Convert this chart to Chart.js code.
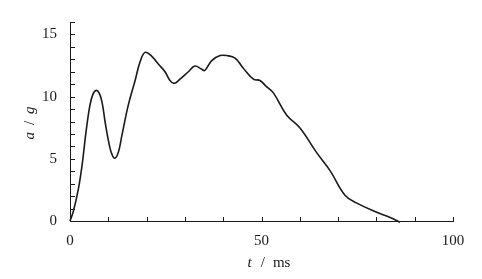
<!DOCTYPE html>
<html>
<head>
<meta charset="utf-8">
<script src="https://cdn.jsdelivr.net/npm/chart.js@4.4.0/dist/chart.umd.min.js"></script>
<style>
  html, body { margin: 0; padding: 0; background: #fff; }
  #wrap { width: 482px; height: 279px; }
</style>
</head>
<body>
<div id="wrap"><canvas id="chart"></canvas></div>
<script>
// time (ms) and acceleration (g)
const timeMs = [0, 0.9, 2.2, 3.2, 4.2, 5.2, 6.0, 6.8, 7.6, 8.4, 9.2, 10.2, 10.9, 11.7, 12.6, 13.5, 15.2,
    17.0, 18.3, 19.6, 21.3, 23.1, 24.8, 26.1, 27.2, 28.7, 30.9, 32.6, 34.4, 35.2, 37, 39.2, 40.9,
    43.1, 45.2, 47.9, 49.6, 51.3, 53.1, 56.6, 60, 64.4, 67.9, 71.8, 74.9, 80.1, 83.6, 86.2];
const accelG = [0, 0.8, 2.6, 4.6, 7.2, 9.3, 10.2, 10.5, 10.3, 9.5, 7.9, 6.2, 5.4, 5.05, 5.5, 6.8, 9.3,
    11.3, 12.8, 13.56, 13.26, 12.6, 12.0, 11.3, 11.07, 11.4, 12.0, 12.46, 12.2, 12.1, 12.9, 13.3, 13.3,
    13.1, 12.3, 11.4, 11.3, 10.8, 10.3, 8.5, 7.5, 5.5, 4.05, 2.07, 1.44, 0.7, 0.28, -0.1];
const xLabels = [0, 50, 100];
const yLabels = [0, 5, 10, 15];

const ink = '#1a1a1a';
const serif = "'Liberation Serif', 'Times New Roman', serif";

const points = timeMs.map((t, i) => ({ x: t, y: accelG[i] }));

// ticks drawn inward + axis titles with italic symbols
const axisDecor = {
    id: 'axisDecor',
    afterDraw(chart) {
        const ctx = chart.ctx;
        const xs = chart.scales.x, ys = chart.scales.y;
        const area = chart.chartArea;
        ctx.save();
        ctx.strokeStyle = ink;
        ctx.lineWidth = 1;
        ctx.beginPath();
        for (let v = 10; v <= 100; v += 10) {
            const px = Math.round(xs.getPixelForValue(v)) + 0.5;
            ctx.moveTo(px, area.bottom);
            ctx.lineTo(px, area.bottom - 4);
        }
        for (let v = 1; v <= 16; v++) {
            const py = Math.round(ys.getPixelForValue(v)) + 0.5;
            ctx.moveTo(area.left, py);
            ctx.lineTo(area.left + 5, py);
        }
        ctx.stroke();

        ctx.fillStyle = ink;
        ctx.textBaseline = 'middle';
        ctx.textAlign = 'left';
        const it = 'italic 15px ' + serif;
        const rm = '15px ' + serif;

        function drawTitle(parts, cx, cy) {
            let total = 0;
            parts.forEach(p => { ctx.font = p.font; p.w = ctx.measureText(p.text).width; total += p.w + (p.gap || 0); });
            let x = cx - total / 2;
            parts.forEach(p => { ctx.font = p.font; ctx.fillText(p.text, x, cy); x += p.w + (p.gap || 0); });
        }

        drawTitle([
            { text: 't', font: it, gap: 9 },
            { text: '/', font: rm, gap: 8 },
            { text: 'ms', font: rm }
        ], 269, 263);

        ctx.translate(30, 123);
        ctx.rotate(-Math.PI / 2);
        drawTitle([
            { text: 'a', font: it, gap: 7 },
            { text: '/', font: rm, gap: 7 },
            { text: 'g', font: it }
        ], 0, 0);
        ctx.restore();
    }
};

new Chart(document.getElementById('chart'), {
    type: 'scatter',
    data: {
        datasets: [{
            data: points,
            showLine: true,
            borderColor: ink,
            borderWidth: 1.6,
            pointRadius: 0,
            tension: 0.4,
            clip: false
        }]
    },
    options: {
        responsive: true,
        maintainAspectRatio: false,
        animation: false,
        layout: { padding: { top: 7, right: 29, left: 0, bottom: 0 } },
        plugins: { legend: { display: false }, tooltip: { enabled: false } },
        scales: {
            x: {
                type: 'linear',
                min: 0,
                max: 100,
                afterFit: s => { s.height = 58; },
                grid: { display: false, drawTicks: false },
                border: { display: true, color: ink, width: 1 },
                ticks: {
                    stepSize: 10,
                    padding: 11,
                    color: ink,
                    font: { family: serif, size: 15 },
                    maxRotation: 0,
                    autoSkip: false,
                    callback: v => xLabels.includes(v) ? String(v) : ''
                }
            },
            y: {
                type: 'linear',
                min: 0,
                max: 16,
                afterFit: s => { s.width = 70; },
                grid: { display: false, drawTicks: false },
                border: { display: true, color: ink, width: 1 },
                ticks: {
                    stepSize: 1,
                    padding: 13,
                    color: ink,
                    font: { family: serif, size: 15 },
                    autoSkip: false,
                    callback: v => yLabels.includes(v) ? String(v) : ''
                }
            }
        }
    },
    plugins: [axisDecor]
});
</script>
</body>
</html>
